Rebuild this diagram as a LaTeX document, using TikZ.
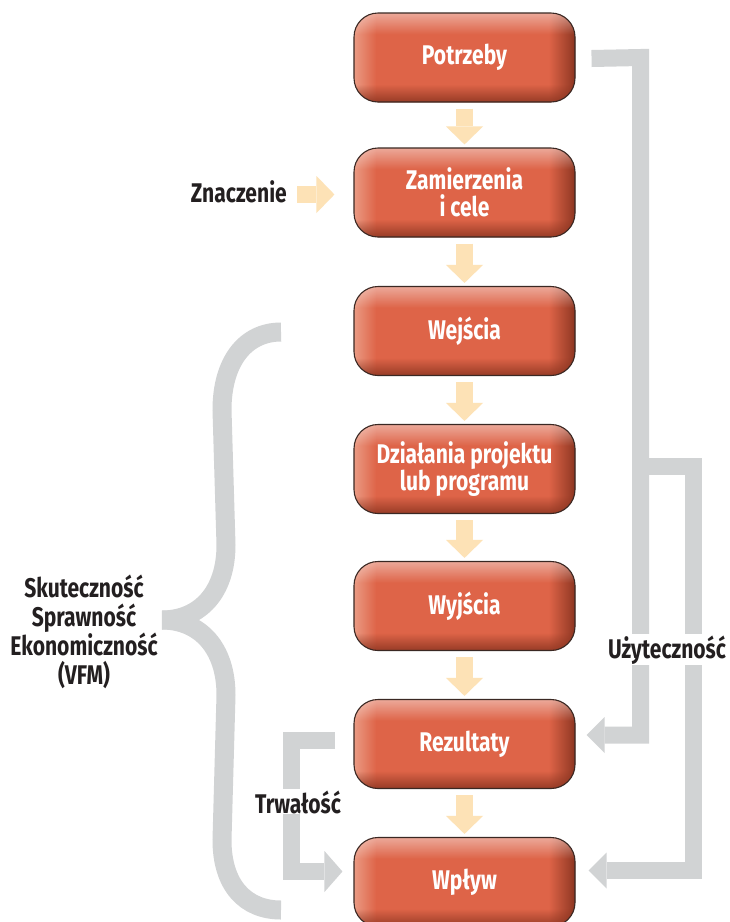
\documentclass[tikz,border=0pt]{standalone}
\usepackage{fontspec}
\newfontfamily\dfont{Fira Sans}[FakeStretch=0.78]
\usetikzlibrary{arrows.meta,fadings}

\definecolor{boxbase}{HTML}{DE6448}
\definecolor{boxlight}{HTML}{EA9A83}
\definecolor{boxdark}{HTML}{8A3420}
\definecolor{boxedge}{HTML}{3A2823}
\definecolor{peach}{HTML}{FDE2B6}
\definecolor{railgrey}{HTML}{D1D3D4}
\definecolor{ink}{HTML}{231F20}

% horizontal body gradient: light left rim, flat middle, dark right rim
\pgfdeclarehorizontalshading{boxacross}{100bp}{color(0bp)=(boxlight); color(25bp)=(boxlight); color(30bp)=(boxbase); color(69bp)=(boxbase); color(73.5bp)=(boxdark!70!boxbase); color(75bp)=(boxdark); color(100bp)=(boxdark)}
% gloss along the top edge
\pgfdeclareverticalshading{glowshade}{100bp}{color(0bp)=(black); color(63bp)=(black); color(75bp)=(black!55); color(100bp)=(black!55)}
\pgfdeclarefading{topglow}{\pgfuseshading{glowshade}}
% shadow along the bottom edge
\pgfdeclareverticalshading{dimshade}{100bp}{color(0bp)=(black!15); color(25bp)=(black!15); color(35bp)=(black); color(100bp)=(black)}
\pgfdeclarefading{bottomdim}{\pgfuseshading{dimshade}}

\tikzset{
  stagebox/.style={draw=boxedge, line width=1.1pt, rounded corners=24pt,
    minimum width=221pt, minimum height=89pt, inner sep=0pt,
    text=white, align=center, fill=boxbase,
    font=\dfont\bfseries\fontsize{27}{27.5}\selectfont,
    path picture={
      \shade[shading=boxacross] (path picture bounding box.south west) rectangle (path picture bounding box.north east);
      \fill[white, path fading=topglow] (path picture bounding box.south west) rectangle (path picture bounding box.north east);
      \fill[boxdark, path fading=bottomdim] (path picture bounding box.south west) rectangle (path picture bounding box.north east);
    }},
  lbl/.style={text=ink, inner sep=1pt, align=center,
    font=\dfont\bfseries\fontsize{27}{28.5}\selectfont},
  peacharrow/.style={draw=peach, line width=17pt,
    -{Triangle[width=37pt,length=18pt,line width=0pt]}},
  railarrow/.style={draw=railgrey, line width=17pt,
    -{Triangle[width=36pt,length=18pt,line width=0pt]}},
  rail/.style={draw=railgrey, line width=19pt}
}

\begin{document}
\begin{tikzpicture}[x=1pt,y=-1pt]
\fill[white] (0,0) rectangle (730,922);
\useasboundingbox (0,0) rectangle (730,922);

% stages of the chain
\node[stagebox] (pot) at (464.5,57.5) {Potrzeby};
\node[stagebox] (zam) at (464.5,192.5) {Zamierzenia\\i cele};
\node[stagebox] (wej) at (464.5,331) {Wejścia};
\node[stagebox] (dzi) at (464.5,469) {Działania projektu\\lub programu};
\node[stagebox] (wyj) at (464.5,606) {Wyjścia};
\node[stagebox] (rez) at (464.5,744) {Rezultaty};
\node[stagebox] (wpl) at (464.5,882) {Wpływ};

% arrows down the chain
\draw[peacharrow] ([yshift=-6pt]pot.south) -- ([yshift=3pt]zam.north);
\draw[peacharrow] ([yshift=-6pt]zam.south) -- ([yshift=3pt]wej.north);
\draw[peacharrow] ([yshift=-6pt]wej.south) -- ([yshift=3pt]dzi.north);
\draw[peacharrow] ([yshift=-6pt]dzi.south) -- ([yshift=3pt]wyj.north);
\draw[peacharrow] ([yshift=-6pt]wyj.south) -- ([yshift=3pt]rez.north);
\draw[peacharrow] ([yshift=-6pt]rez.south) -- ([yshift=3pt]wpl.north);

% relevance input
\node[lbl, anchor=base east] (znac) at (288,202) {Znaczenie};
\draw[peacharrow] (297,194.5) coordinate (znacA) -- ([xshift=-19pt]zam.west |- znacA);

% utility rails on the right
\coordinate (railA) at (640.5,0);
\coordinate (railB) at (693,0);
\draw[railarrow] ([xshift=16pt,yshift=-1pt]pot.east) -- (railA |- pot.east) |- ([xshift=11pt,yshift=9pt]rez.east);
\draw[railarrow] (railA |- 466.5,466.5) coordinate (split) -- (railB |- split) |- ([xshift=13pt,yshift=11.5pt]wpl.east);
\node[lbl, fill=white, anchor=base] (uzy) at (667,658) {Użyteczność};

% sustainability bracket
\coordinate (trwTop) at (335,740);
\coordinate (trwRail) at (291.5,0);
\draw[draw=railgrey, line width=17pt, -{Triangle[width=41pt,length=18pt,line width=0pt]}]
  (trwTop) -- (trwRail |- trwTop) |- ([xshift=-11pt,yshift=10.5pt]wpl.west);
\node[lbl, fill=white, anchor=base] (trw) at (298,813) {Trwałość};

% brace grouping inputs to impact
\draw[rail] (281,332) .. controls (245,332) and (222,362) .. (222,410)
  -- (226,545) .. controls (226,592) and (200,620) .. (162,620);
\draw[rail] (162,620) .. controls (200,620) and (226,648) .. (226,695)
  -- (222,840) .. controls (222,885) and (245,910) .. (281,910);

\node[lbl, anchor=north] (kryt) at (84,574) {Skuteczność\\Sprawność\\Ekonomiczność\\(VFM)};
\end{tikzpicture}
\end{document}
